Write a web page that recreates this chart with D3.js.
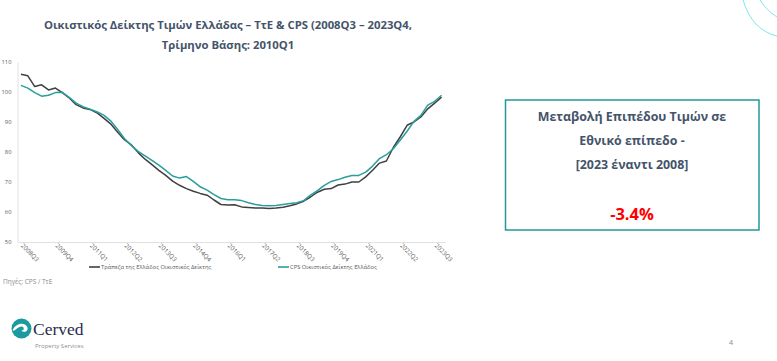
<!DOCTYPE html>
<html>
<head>
<meta charset="utf-8">
<script src="https://cdn.jsdelivr.net/npm/d3@7/dist/d3.min.js"></script>
<style>
  html, body { margin: 0; padding: 0; background: #ffffff; }
  svg { display: block; }
</style>
</head>
<body>
<svg id="chart" width="777" height="361"></svg>
<script>
// ---- data ----
const quarters = [
  "2008Q3","2008Q4","2009Q1","2009Q2","2009Q3","2009Q4","2010Q1","2010Q2","2010Q3","2010Q4",
  "2011Q1","2011Q2","2011Q3","2011Q4","2012Q1","2012Q2","2012Q3","2012Q4","2013Q1","2013Q2",
  "2013Q3","2013Q4","2014Q1","2014Q2","2014Q3","2014Q4","2015Q1","2015Q2","2015Q3","2015Q4",
  "2016Q1","2016Q2","2016Q3","2016Q4","2017Q1","2017Q2","2017Q3","2017Q4","2018Q1","2018Q2",
  "2018Q3","2018Q4","2019Q1","2019Q2","2019Q3","2019Q4","2020Q1","2020Q2","2020Q3","2020Q4",
  "2021Q1","2021Q2","2021Q3","2021Q4","2022Q1","2022Q2","2022Q3","2022Q4","2023Q1","2023Q2",
  "2023Q3","2023Q4"
];
const tickLabels = ["2008Q3","2009Q4","2011Q1","2012Q2","2013Q3","2014Q4","2016Q1","2017Q2","2018Q3","2019Q4","2021Q1","2022Q2","2023Q3"];
const yTicks = [50, 60, 70, 80, 90, 100, 110];

const bogIndex = [
  105.9,105.4,101.8,102.4,100.7,101.3,99.8,98.0,95.8,94.7,
  94.2,93.1,91.3,89.4,86.7,84.1,82.4,79.8,77.6,75.8,
  73.9,72.2,70.3,68.9,67.8,66.9,66.2,65.6,64.0,62.5,
  62.3,62.4,61.7,61.5,61.3,61.3,61.2,61.3,61.6,62.1,
  62.7,63.6,65.0,66.6,67.6,67.8,69.0,69.3,70.0,70.0,
  71.7,73.9,76.3,77.0,81.5,85.0,88.9,90.0,91.7,94.4,
  96.3,98.3
];
const cpsIndex = [
  102.2,101.3,99.8,98.6,98.9,99.8,99.9,98.2,96.3,95.1,
  94.3,93.4,92.3,90.4,87.6,84.5,82.2,80.2,78.7,77.2,
  75.6,73.9,72.0,71.3,71.8,70.2,68.4,67.3,65.8,64.5,
  64.1,64.1,63.8,63.1,62.5,62.2,62.1,62.2,62.5,62.8,
  63.1,63.8,65.6,67.1,68.9,70.2,70.8,71.6,72.2,72.2,
  73.3,75.3,77.8,79.1,81.1,83.9,86.9,90.2,92.2,95.6,
  96.9,98.9
];
const seriesNames = ["Τράπεζα της Ελλάδος Οικιστικός Δείκτης", "CPS Οικιστικός Δείκτης Ελλάδος"];
const seriesColors = ["#404040", "#2a9d9f"];

const titleLines = ["Οικιστικός Δείκτης Τιμών Ελλάδας – ΤτΕ & CPS (2008Q3 – 2023Q4,", "Τρίμηνο Βάσης: 2010Q1"];
const boxLines = ["Μεταβολή Επιπέδου Τιμών σε", "Εθνικό επίπεδο -", "[2023 έναντι 2008]"];
const boxValue = "-3.4%";

// ---- drawing ----
const svg = d3.select("#chart");
const font = "'Open Sans', sans-serif";
const textCol = "#44546a";

// decorative arcs top-right
svg.append("path").attr("d", "M743,0 Q752,30 777,36").attr("fill", "none").attr("stroke", "#6fe3e3").attr("stroke-width", 0.9);
svg.append("path").attr("d", "M760,0 Q766,10 777,17").attr("fill", "none").attr("stroke", "#6fe3e3").attr("stroke-width", 0.9);

// title
svg.selectAll("text.title").data(titleLines).enter().append("text")
  .attr("class", "title")
  .attr("x", 228).attr("y", (d, i) => 29 + i * 20)
  .attr("text-anchor", "middle")
  .attr("font-family", font).attr("font-weight", "bold").attr("font-size", 11.3)
  .attr("fill", textCol).text(d => d);

// scales
const x = d3.scalePoint().domain(quarters).range([17.5, 445]).padding(0.5);
const y = d3.scaleLinear().domain([50, 110]).range([242, 62]);

// y axis
const yAxis = d3.axisLeft(y).tickValues(yTicks).tickSize(0).tickPadding(6);
const gy = svg.append("g").attr("transform", "translate(17.5,0)").call(yAxis);
gy.select(".domain").attr("stroke", "#d9d9d9").attr("stroke-width", 0.8);
gy.selectAll("text").attr("font-family", font).attr("font-size", 5.8).attr("fill", "#595959");

// x axis
const xAxis = d3.axisBottom(x).tickValues(tickLabels).tickSize(0).tickPadding(0);
const gx = svg.append("g").attr("transform", "translate(0,242)").call(xAxis);
gx.select(".domain").attr("stroke", "#d9d9d9").attr("stroke-width", 0.8);
gx.selectAll("text")
  .attr("font-family", font).attr("font-size", 6.2).attr("fill", "#595959")
  .attr("text-anchor", "start")
  .attr("dy", null).attr("y", 0)
  .attr("transform", "translate(-1,4) rotate(45)");

// lines
const line = d3.line().x((d, i) => x(quarters[i])).y(d => y(d));
[bogIndex, cpsIndex].forEach((vals, k) => {
  svg.append("path").datum(vals)
    .attr("d", line)
    .attr("fill", "none")
    .attr("stroke", seriesColors[k])
    .attr("stroke-width", 1.5)
    .attr("stroke-linejoin", "round");
});

// legend
const legendX = [89, 278];
seriesNames.forEach((n, k) => {
  const g = svg.append("g").attr("transform", `translate(${legendX[k]},267)`);
  g.append("line").attr("x1", 0).attr("x2", 11).attr("y1", 0).attr("y2", 0)
    .attr("stroke", seriesColors[k]).attr("stroke-width", 1.6);
  g.append("text").attr("x", 12).attr("y", 2)
    .attr("font-family", font).attr("font-size", 5.8).attr("fill", "#595959").text(n);
});

// source
svg.append("text").attr("x", 3).attr("y", 284)
  .attr("font-family", font).attr("font-size", 6.5).attr("fill", "#8a8a8a").text("Πηγές: CPS / ΤτΕ");

// box
svg.append("rect").attr("x", 505.5).attr("y", 100).attr("width", 253.5).attr("height", 130)
  .attr("fill", "none").attr("stroke", "#22999a").attr("stroke-width", 1.5);
svg.selectAll("text.box").data(boxLines).enter().append("text")
  .attr("class", "box")
  .attr("x", 632).attr("y", (d, i) => 121 + i * 24)
  .attr("text-anchor", "middle")
  .attr("font-family", font).attr("font-weight", "bold").attr("font-size", 12.4)
  .attr("fill", textCol).text(d => d);
svg.append("text").attr("x", 632).attr("y", 219.5).attr("text-anchor", "middle")
  .attr("font-family", font).attr("font-weight", "bold").attr("font-size", 16.5)
  .attr("fill", "#ff0000").text(boxValue);

// logo
const logo = svg.append("g").attr("transform", "translate(21.5,328.5)");
logo.append("circle").attr("r", 10).attr("fill", "#1b9aa0");
logo.append("path")
  .attr("d", "M-9,2 C-6,-6 4,-7 6,-1 C7,3 2,5 0,2 C3,2 3,-2 0,-2 C-4,-2 -6,3 -9,2 Z")
  .attr("fill", "#ffffff");
svg.append("text").attr("x", 33).attr("y", 335)
  .attr("font-family", "'Liberation Serif', serif").attr("font-size", 17.5).attr("fill", "#1f2d4d")
  .text("Cerved");
svg.append("text").attr("x", 35).attr("y", 348)
  .attr("font-family", font).attr("font-size", 6).attr("fill", "#8a8f99")
  .text("Property Services");

// page number
svg.append("text").attr("x", 731).attr("y", 345).attr("text-anchor", "middle")
  .attr("font-family", font).attr("font-size", 7).attr("fill", "#8a8a8a").text("4");
</script>
</body>
</html>
